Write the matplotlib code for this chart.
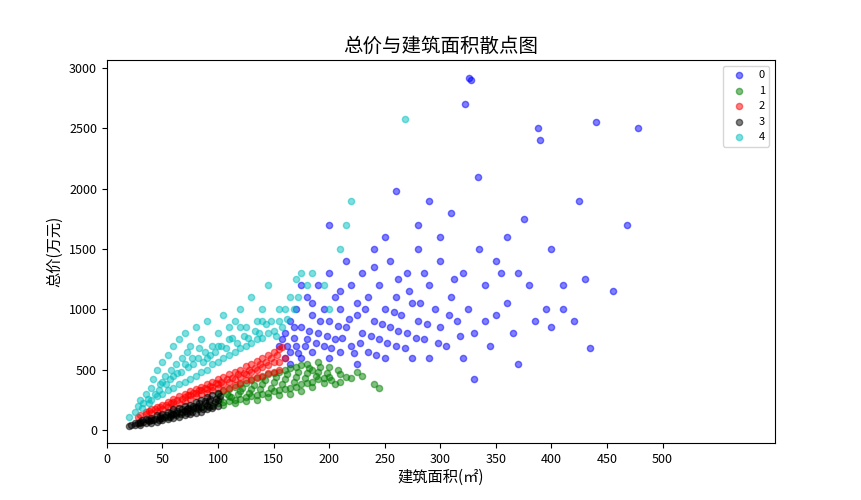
import numpy as np
import matplotlib.pyplot as plt

plt.rcParams['font.family'] = ['Noto Sans CJK SC', 'DejaVu Sans']
plt.rcParams['axes.unicode_minus'] = False

# (建筑面积, 总价) per cluster
c0 = [(326, 2920), (328, 2900), (322, 2700), (388, 2500), (390, 2400), (440, 2550), (478, 2500),
      (425, 1900), (468, 1700), (334, 2100), (260, 1980), (400, 1500), (375, 1750), (410, 1200),
      (430, 1250), (435, 680), (455, 1150), (350, 1400), (370, 550), (330, 420),
      (155, 700), (160, 600), (160, 800), (165, 650), (165, 900), (170, 700), (170, 1000), (175, 600),
      (175, 850), (180, 750), (180, 1100), (185, 650), (185, 950), (190, 800), (190, 1200), (195, 700),
      (195, 1000), (200, 600), (200, 900), (200, 1300), (205, 750), (205, 1100), (210, 650), (210, 1000),
      (215, 850), (215, 1400), (220, 700), (220, 1200), (225, 550), (225, 950), (230, 800), (230, 1300),
      (235, 650), (235, 1100), (240, 900), (240, 1500), (245, 750), (245, 1200), (250, 600), (250, 1000),
      (255, 850), (255, 1400), (260, 700), (260, 1100), (265, 950), (270, 800), (270, 1300), (275, 600),
      (275, 1050), (280, 900), (280, 1500), (285, 750), (290, 1200), (290, 600), (295, 1000), (300, 850),
      (300, 1400), (305, 700), (310, 1100), (310, 1800), (315, 900), (320, 1300), (320, 600), (325, 1000),
      (330, 800), (335, 1500), (340, 1200), (345, 700), (350, 950), (355, 1300), (360, 1600), (365, 800),
      (370, 1300), (380, 1200), (385, 900), (395, 1000), (400, 850), (410, 1000), (420, 900), (300, 1600),
      (280, 1700), (250, 1600), (240, 1350), (175, 1200), (165, 550), (200, 1700), (290, 1900),
      (158, 750), (162, 700), (168, 760), (172, 640), (178, 700), (182, 820), (188, 720), (192, 900),
      (198, 780), (202, 680), (208, 860), (212, 760), (218, 920), (222, 640), (228, 720), (232, 1000),
      (238, 780), (242, 620), (248, 880), (252, 720), (258, 980), (262, 820), (268, 680), (272, 1150),
      (278, 760), (282, 1050), (288, 880), (298, 720), (308, 950), (318, 780), (168, 850), (185, 1050),
      (210, 1150), (225, 1050), (262, 1250), (285, 1300), (312, 1250), (340, 900), (360, 1050)]

c1 = [(55, 110), (60, 130), (65, 140), (70, 160), (75, 170), (80, 180), (85, 190), (90, 200), (95, 210),
      (100, 220), (100, 300), (105, 230), (105, 320), (110, 240), (110, 340), (115, 250), (115, 360),
      (120, 260), (120, 380), (125, 270), (125, 390), (130, 280), (130, 410), (135, 290), (135, 430),
      (140, 300), (140, 440), (145, 310), (145, 460), (150, 320), (150, 470), (155, 330), (155, 480),
      (160, 340), (160, 500), (165, 350), (165, 510), (170, 360), (170, 520), (175, 380), (175, 540),
      (180, 390), (180, 550), (185, 400), (185, 500), (190, 420), (190, 560), (195, 430), (200, 440),
      (200, 520), (210, 460), (210, 400), (220, 430), (225, 480), (230, 450), (240, 380), (245, 350),
      (120, 320), (140, 380), (160, 420), (180, 470), (110, 280), (130, 340), (150, 400), (170, 440),
      (175, 320), (190, 480), (205, 380),
      (102, 260), (108, 300), (112, 270), (118, 300), (122, 350), (128, 310), (132, 370), (138, 340),
      (142, 410), (148, 350), (152, 440), (158, 380), (162, 460), (168, 400), (172, 480), (178, 430),
      (182, 510), (188, 450), (192, 520), (198, 470), (202, 410), (208, 500), (215, 440), (195, 390),
      (185, 360), (165, 300), (155, 290), (145, 270), (135, 250), (125, 240), (115, 225), (105, 210)]

c2 = [(28, 110), (30, 120), (35, 130), (35, 150), (40, 140), (40, 170), (45, 160), (45, 190), (50, 170),
      (50, 210), (55, 190), (55, 235), (60, 200), (60, 255), (65, 220), (65, 280), (70, 240), (70, 300),
      (75, 260), (75, 320), (80, 280), (80, 340), (85, 300), (85, 360), (90, 310), (90, 380), (95, 330),
      (95, 400), (100, 350), (100, 420), (105, 330), (105, 440), (110, 350), (110, 460), (115, 370),
      (115, 480), (120, 390), (120, 500), (125, 410), (125, 530), (130, 420), (130, 550), (135, 440),
      (135, 575), (140, 450), (140, 600), (145, 470), (145, 620), (150, 480), (150, 650), (155, 500),
      (155, 670), (110, 400), (120, 440), (130, 480), (140, 520), (150, 560), (100, 380), (90, 340),
      (80, 310), (70, 270), (60, 230), (160, 600), (158, 690),
      (38, 155), (43, 175), (48, 190), (53, 210), (58, 225), (63, 250), (68, 260), (73, 290), (78, 305),
      (83, 330), (88, 350), (93, 365), (98, 390), (103, 400), (108, 420), (113, 430), (118, 460),
      (123, 470), (128, 500), (133, 510), (138, 550), (143, 560), (148, 600), (153, 620), (155, 560),
      (145, 540), (135, 500), (125, 460), (115, 420), (105, 380), (95, 360), (85, 330), (75, 290)]

c3 = [(20, 30), (22, 45), (25, 40), (25, 60), (28, 55), (30, 45), (30, 70), (32, 80), (35, 60), (35, 90),
      (38, 75), (40, 60), (40, 100), (42, 85), (45, 70), (45, 120), (48, 100), (50, 80), (50, 130),
      (52, 110), (55, 90), (55, 150), (58, 120), (60, 100), (60, 170), (62, 140), (65, 110), (65, 180),
      (68, 150), (70, 120), (70, 200), (72, 170), (75, 130), (75, 210), (78, 180), (80, 140), (80, 230),
      (82, 200), (85, 150), (85, 250), (88, 220), (90, 170), (90, 270), (92, 240), (95, 180), (95, 290),
      (98, 260), (100, 200), (100, 310), (102, 280), (60, 130), (70, 160), (80, 190), (90, 210),
      (50, 100), (40, 80), (30, 55), (100, 250), (85, 190), (75, 160),
      (33, 65), (37, 80), (43, 95), (47, 85), (53, 120), (57, 105), (63, 155), (67, 130), (73, 185),
      (77, 150), (83, 220), (87, 170), (93, 260), (97, 230), (96, 200), (88, 240), (78, 200), (68, 170),
      (58, 140), (48, 115), (62, 120), (72, 140), (82, 170), (92, 190)]

c4 = [(20, 110), (25, 150), (28, 200), (30, 250), (32, 180), (35, 300), (38, 220), (40, 350), (40, 250),
      (42, 420), (45, 280), (45, 500), (48, 380), (50, 300), (50, 560), (52, 450), (55, 330), (55, 620),
      (58, 500), (60, 350), (60, 700), (62, 550), (65, 380), (65, 750), (68, 600), (70, 400), (70, 800),
      (72, 650), (75, 420), (75, 700), (78, 550), (80, 450), (80, 850), (82, 600), (85, 480), (85, 750),
      (88, 650), (90, 500), (90, 900), (95, 550), (95, 700), (100, 560), (100, 800), (105, 600),
      (105, 950), (110, 620), (110, 750), (115, 650), (115, 900), (120, 680), (120, 1000), (125, 700),
      (125, 850), (130, 720), (130, 1100), (135, 750), (135, 900), (140, 760), (140, 1000), (145, 800),
      (145, 1200), (150, 820), (155, 900), (160, 1000), (165, 1100), (170, 1250), (175, 1300),
      (180, 1200), (185, 1300), (195, 1200), (210, 1500), (215, 1700), (220, 1900), (268, 2580),
      (200, 1000), (110, 850), (90, 600), (70, 550), (50, 400), (60, 450),
      (33, 220), (37, 260), (43, 300), (47, 330), (53, 380), (57, 420), (63, 470), (67, 480), (73, 520),
      (77, 600), (83, 680), (87, 560), (93, 620), (97, 650), (103, 700), (107, 680), (113, 760),
      (117, 720), (123, 780), (127, 760), (133, 820), (137, 800), (143, 880), (148, 900), (152, 780),
      (158, 850), (162, 920), (168, 1000), (172, 1100), (155, 1000), (140, 900), (120, 850), (100, 700)]

clusters = [c0, c1, c2, c3, c4]
colors = ['b', 'g', 'r', 'k', 'c']

fig = plt.figure(figsize=(8.61, 5), dpi=100)
ax = fig.add_axes([0.124, 0.114, 0.776, 0.766])
for i, (pts, col) in enumerate(zip(clusters, colors)):
    pts = np.array(pts)
    ax.scatter(pts[:, 0], pts[:, 1], c=col, s=20, alpha=0.5, label=str(i))

ax.set_xlim(0, 601)
ax.set_ylim(-108, 3066)
ax.set_xticks(np.arange(0, 501, 50))
ax.set_yticks(np.arange(0, 3001, 500))
ax.tick_params(labelsize=9)
ax.set_title('总价与建筑面积散点图', fontsize=14)
ax.set_xlabel('建筑面积(㎡)', fontsize=11, labelpad=2)
ax.set_ylabel('总价(万元)', fontsize=11)
ax.legend(loc='upper right', fontsize=8)
fig.savefig('out.png')
